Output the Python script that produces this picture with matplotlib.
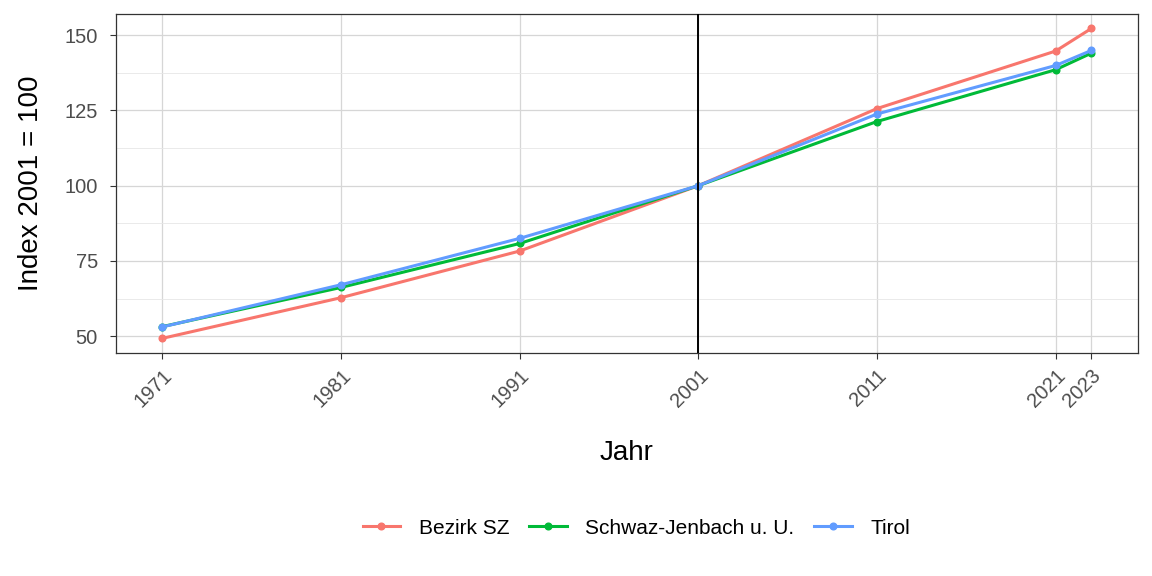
import matplotlib
matplotlib.use("Agg")
import matplotlib.pyplot as plt
from matplotlib.ticker import MultipleLocator

years = [1971, 1981, 1991, 2001, 2011, 2021, 2023]
bezirk_sz = [49.3, 62.8, 78.3, 100.0, 125.6, 144.7, 152.2]
schwaz_jenbach = [53.2, 66.2, 80.8, 100.0, 121.3, 138.5, 144.0]
tirol = [53.1, 67.1, 82.5, 100.0, 123.8, 139.9, 144.9]

SERIES = [("Bezirk SZ", bezirk_sz, "#F8766D"),
          ("Schwaz-Jenbach u. U.", schwaz_jenbach, "#00BA38"),
          ("Tirol", tirol, "#619CFF")]

plt.rcParams["font.family"] = ["Liberation Sans", "DejaVu Sans"]

fig = plt.figure(figsize=(11.52, 5.76), dpi=100)
ax = fig.add_axes([0.1007, 0.387, 0.887, 0.5887])

for label, vals, col in SERIES:
    ax.plot(years, vals, color=col, lw=2.2, marker="o", ms=4.8, label=label, zorder=3)

ax.axvline(2001, color="black", lw=1.4, zorder=4)

ax.set_xlim(1968.4, 2025.6)
ax.set_ylim(44.4, 157.0)
ax.set_xticks(years)
ax.set_xticklabels([str(y) for y in years], rotation=45, ha="right", rotation_mode="anchor")
ax.yaxis.set_major_locator(MultipleLocator(25))
ax.yaxis.set_minor_locator(MultipleLocator(12.5))
ax.grid(which="major", color="#d6d6d6", lw=0.9)
ax.grid(which="minor", axis="y", color="#e6e6e6", lw=0.6)
ax.set_axisbelow(True)
ax.tick_params(which="minor", length=0)
ax.tick_params(which="major", labelsize=14.5, labelcolor="#4d4d4d", color="#333333", length=4)
ax.tick_params(axis="y", pad=9)
ax.tick_params(axis="x", pad=5)
for s in ax.spines.values():
    s.set_color("#333333")
    s.set_linewidth(0.9)

ax.set_xlabel("Jahr", fontsize=20, labelpad=21)
ax.set_ylabel("Index 2001 = 100", fontsize=20, labelpad=15)

fig.legend(loc="center", bbox_to_anchor=(0.5525, 0.083), ncol=3, frameon=False,
           fontsize=15, handlelength=1.8, columnspacing=0.95, handletextpad=0.9)

fig.savefig("out.png", dpi=100)
